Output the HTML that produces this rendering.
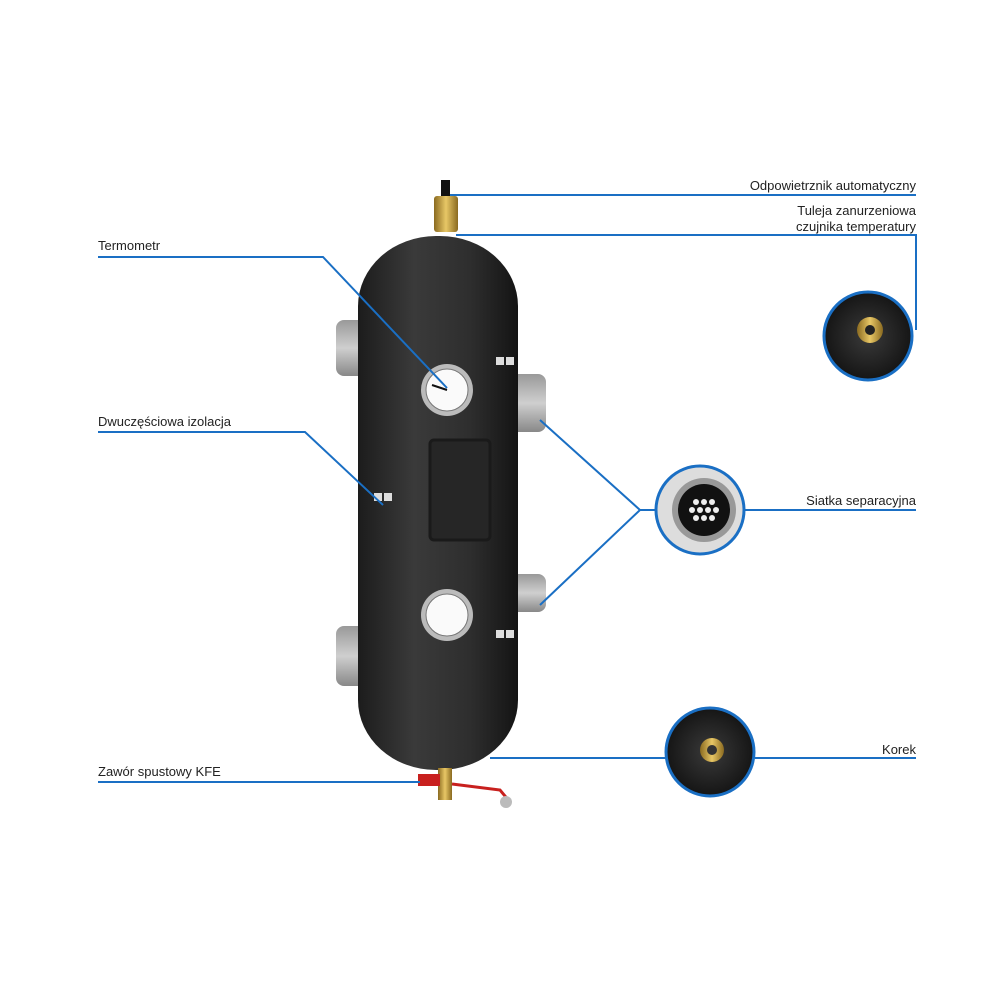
<!DOCTYPE html>
<html><head><meta charset="utf-8"><style>
html,body{margin:0;padding:0;background:#fff;}
svg{display:block;}
text{font-family:"Liberation Sans",sans-serif;font-size:13px;fill:#222;}
</style></head><body>
<svg width="1000" height="1000" viewBox="0 0 1000 1000" xmlns="http://www.w3.org/2000/svg">
<defs>
<linearGradient id="tank" x1="0" x2="1" y1="0" y2="0">
<stop offset="0" stop-color="#1c1c1c"/><stop offset="0.35" stop-color="#3a3a3a"/><stop offset="0.7" stop-color="#2e2e2e"/><stop offset="1" stop-color="#141414"/>
</linearGradient>
<linearGradient id="port" x1="0" x2="0" y1="0" y2="1">
<stop offset="0" stop-color="#999"/><stop offset="0.5" stop-color="#cfcfcf"/><stop offset="1" stop-color="#888"/>
</linearGradient>
<linearGradient id="brass" x1="0" x2="1"><stop offset="0" stop-color="#8a6a20"/><stop offset="0.5" stop-color="#e8c766"/><stop offset="1" stop-color="#8a6a20"/></linearGradient>
<radialGradient id="foam"><stop offset="0" stop-color="#3a3a3a"/><stop offset="1" stop-color="#151515"/></radialGradient>
</defs>
<!-- ports -->
<rect x="336" y="320" width="30" height="56" rx="8" fill="url(#port)"/>
<rect x="336" y="626" width="30" height="60" rx="8" fill="url(#port)"/>
<rect x="510" y="374" width="36" height="58" rx="8" fill="url(#port)"/>
<rect x="510" y="574" width="36" height="38" rx="8" fill="url(#port)"/>
<!-- top vent -->
<rect x="441" y="180" width="9" height="18" fill="#111"/>
<rect x="434" y="196" width="24" height="36" rx="3" fill="url(#brass)"/>
<!-- tank -->
<rect x="358" y="236" width="160" height="534" rx="78" ry="70" fill="url(#tank)"/>
<!-- plate -->
<rect x="430" y="440" width="60" height="100" rx="4" fill="#262626" stroke="#1a1a1a" stroke-width="3"/>
<!-- thermometers -->
<circle cx="447" cy="390" r="26" fill="#bbb"/><circle cx="447" cy="390" r="21" fill="#fafafa" stroke="#777"/>
<line x1="447" y1="390" x2="432" y2="385" stroke="#111" stroke-width="2"/>
<circle cx="447" cy="615" r="26" fill="#bbb"/><circle cx="447" cy="615" r="21" fill="#fafafa" stroke="#777"/>
<!-- bottom valve -->
<rect x="438" y="768" width="14" height="32" fill="url(#brass)"/>
<rect x="418" y="774" width="22" height="12" fill="#c8201e"/>
<path d="M452 784 L500 790 L510 802" stroke="#c8201e" stroke-width="3" fill="none"/>
<circle cx="506" cy="802" r="6" fill="#bbb"/>
<!-- ghost squares -->
<g fill="#ddd"><rect x="496" y="357" width="8" height="8"/><rect x="506" y="357" width="8" height="8"/><rect x="374" y="493" width="8" height="8"/><rect x="384" y="493" width="8" height="8"/><rect x="496" y="630" width="8" height="8"/><rect x="506" y="630" width="8" height="8"/></g>
<!-- lines -->
<g stroke="#1a6fc4" stroke-width="2" fill="none">
<path d="M450 195 H916"/>
<path d="M456 235 H916 V330"/>
<path d="M98 257 H323 L447 388"/>
<path d="M98 432 H305 L383 505"/>
<path d="M540 420 L640 510 L540 605"/>
<path d="M640 510 H660"/><path d="M745 510 H916"/>
<path d="M490 758 H666"/><path d="M755 758 H916"/>
<path d="M98 782 H420"/>
</g>
<!-- inset circles -->
<circle cx="868" cy="336" r="44" fill="url(#foam)" stroke="#1a6fc4" stroke-width="3"/>
<circle cx="870" cy="330" r="13" fill="url(#brass)"/><circle cx="870" cy="330" r="5" fill="#222"/>
<circle cx="700" cy="510" r="44" fill="#ddd" stroke="#1a6fc4" stroke-width="3"/>
<circle cx="704" cy="510" r="32" fill="#999"/><circle cx="704" cy="510" r="26" fill="#111"/>
<g fill="#eee"><circle cx="696" cy="502" r="3"/><circle cx="704" cy="502" r="3"/><circle cx="712" cy="502" r="3"/><circle cx="692" cy="510" r="3"/><circle cx="700" cy="510" r="3"/><circle cx="708" cy="510" r="3"/><circle cx="716" cy="510" r="3"/><circle cx="696" cy="518" r="3"/><circle cx="704" cy="518" r="3"/><circle cx="712" cy="518" r="3"/></g>
<circle cx="710" cy="752" r="44" fill="url(#foam)" stroke="#1a6fc4" stroke-width="3"/>
<circle cx="712" cy="750" r="12" fill="url(#brass)"/><circle cx="712" cy="750" r="5" fill="#333"/>
<!-- labels -->
<text x="916" y="190" text-anchor="end">Odpowietrznik automatyczny</text>
<text x="916" y="215" text-anchor="end">Tuleja zanurzeniowa</text>
<text x="916" y="231" text-anchor="end">czujnika temperatury</text>
<text x="98" y="250">Termometr</text>
<text x="98" y="426">Dwuczęściowa izolacja</text>
<text x="916" y="505" text-anchor="end">Siatka separacyjna</text>
<text x="916" y="754" text-anchor="end">Korek</text>
<text x="98" y="776">Zawór spustowy KFE</text>
</svg>
</body></html>
